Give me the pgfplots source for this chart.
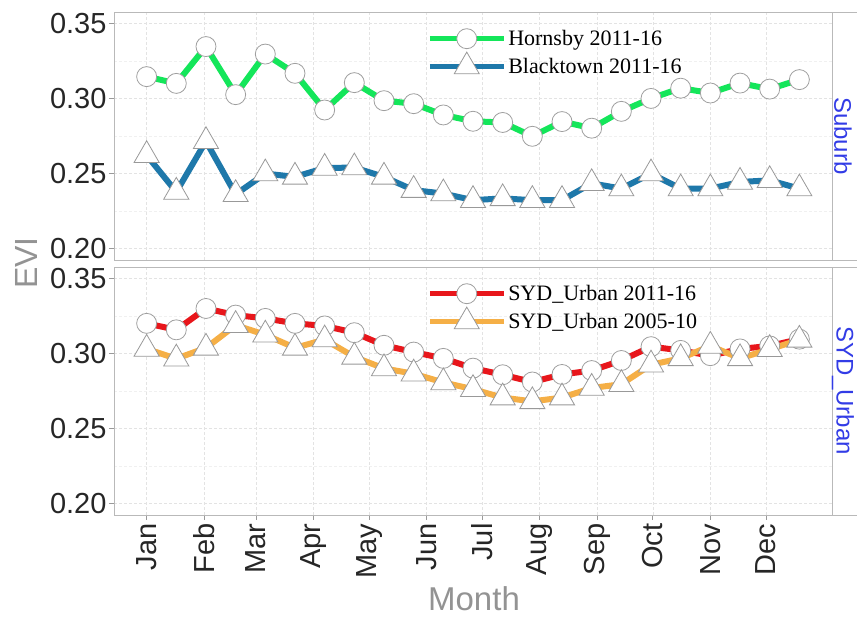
\documentclass[border=0pt]{standalone}
\usepackage{fontspec}
\setmainfont{Liberation Sans}
\newfontfamily\legfont{Liberation Serif}
\usepackage{pgfplots}
\pgfplotsset{compat=1.18}
\usepackage{pgfplotstable}

\definecolor{cgreen}{RGB}{20,230,90}
\definecolor{cblue}{RGB}{30,120,170}
\definecolor{cred}{RGB}{232,22,27}
\definecolor{corange}{RGB}{245,175,70}
\definecolor{cstrip}{RGB}{50,60,230}

% day of year, EVI (16-day composites)
\pgfplotstableread{
day hornsby blacktown urban1116 urban0510
1   0.3145 0.2622 0.3200 0.3030
17  0.3100 0.2378 0.3157 0.2965
33  0.3345 0.2715 0.3299 0.3037
49  0.3025 0.2362 0.3255 0.3188
65  0.3295 0.2500 0.3233 0.3124
81  0.3167 0.2478 0.3200 0.3037
97  0.2923 0.2537 0.3183 0.3092
113 0.3105 0.2540 0.3138 0.2977
129 0.2985 0.2478 0.3054 0.2900
145 0.2965 0.2390 0.3009 0.2865
161 0.2890 0.2367 0.2967 0.2807
177 0.2848 0.2323 0.2902 0.2762
193 0.2840 0.2335 0.2858 0.2706
209 0.2748 0.2323 0.2810 0.2681
225 0.2846 0.2323 0.2860 0.2706
241 0.2802 0.2435 0.2886 0.2770
257 0.2914 0.2400 0.2953 0.2795
273 0.3000 0.2500 0.3045 0.2925
289 0.3068 0.2400 0.3020 0.2967
305 0.3036 0.2400 0.2985 0.3050
321 0.3102 0.2444 0.3030 0.2967
337 0.3062 0.2455 0.3050 0.3028
353 0.3125 0.2400 0.3095 0.3090
}\evi

\pgfplotsset{
  panel/.style={
    scale only axis, width=718pt, height=248pt,
    xmin=-16.6, xmax=370.6, ymin=0.1925, ymax=0.3575,
    ytick={0.20,0.25,0.30,0.35},
    yticklabels={0.20,0.25,0.30,0.35},
    minor ytick={0.225,0.275,0.325},
    xtick={1,32,60,91,121,152,182,213,244,274,305,335},
    grid=major, yminorgrids,
    major grid style={gray!22, densely dashed, line width=0.7pt},
    minor grid style={gray!12, densely dashed, line width=0.6pt},
    minor tick length=0pt,
    axis line style={gray!55, line width=0.8pt},
    tick pos=left, tick align=outside, major tick length=5pt,
    tick style={gray!80, line width=0.8pt},
    ticklabel style={font=\fontsize{29}{29}\selectfont, text=black!85},
    yticklabel style={xshift=1pt},
    /pgf/number format/assume math mode=true,
    clip=false,
    legend style={draw=none, fill=none, font=\legfont\fontsize{22}{24}\selectfont,
      anchor=north west, row sep=3pt, inner sep=0pt},
    legend cell align=left,
    legend image code/.code={\draw[#1, mark repeat=2, mark phase=2]
      plot coordinates {(0pt,0pt) (37pt,0pt) (74pt,0pt)};},
  },
  ln/.style={line width=6pt, mark=none},
  circ/.style={only marks, mark=*, mark size=10pt,
    mark options={fill=white, draw=gray!75, line width=0.8pt}},
  tri/.style={only marks, mark=triangle*, mark size=14.5pt,
    mark options={fill=white, draw=gray!80, line width=0.8pt}},
}

\begin{document}
\begin{tikzpicture}
\useasboundingbox (0,0) rectangle (857pt,621pt);

\begin{axis}[panel, name=top, at={(114pt,361pt)}, anchor=south west,
  xticklabels={}, xtick style={draw=none},
  legend style={at={(0.436,0.935)}}]
\addplot[ln, cgreen, forget plot] table[x=day, y=hornsby] {\evi};
\addplot[ln, cblue, forget plot] table[x=day, y=blacktown] {\evi};
\addplot[circ, forget plot] table[x=day, y=hornsby] {\evi};
\addplot[tri, forget plot] table[x=day, y=blacktown] {\evi};
\addlegendimage{line width=5pt, cgreen, mark=*, mark size=10pt,
  mark options={fill=white, draw=gray!75, line width=0.8pt}}
\addlegendentry{Hornsby 2011-16}
\addlegendimage{line width=5pt, cblue, mark=triangle*, mark size=14.5pt,
  mark options={fill=white, draw=gray!80, line width=0.8pt}}
\addlegendentry{Blacktown 2011-16}
\end{axis}

\begin{axis}[panel, name=bot, at={(114pt,106pt)}, anchor=south west,
  xticklabels={Jan,Feb,Mar,Apr,May,Jun,Jul,Aug,Sep,Oct,Nov,Dec},
  x tick label style={rotate=90, anchor=east},
  legend style={at={(0.436,0.935)}}]
\addplot[ln, cred, forget plot] table[x=day, y=urban1116] {\evi};
\addplot[ln, corange, forget plot] table[x=day, y=urban0510] {\evi};
\addplot[circ, forget plot] table[x=day, y=urban1116] {\evi};
\addplot[tri, forget plot] table[x=day, y=urban0510] {\evi};
\addlegendimage{line width=5pt, cred, mark=*, mark size=10pt,
  mark options={fill=white, draw=gray!75, line width=0.8pt}}
\addlegendentry{SYD\_Urban 2011-16}
\addlegendimage{line width=5pt, corange, mark=triangle*, mark size=14.5pt,
  mark options={fill=white, draw=gray!80, line width=0.8pt}}
\addlegendentry{SYD\_Urban 2005-10}
\end{axis}

% facet strips on the right
\draw[gray!55, line width=0.8pt] (top.north east) rectangle ([xshift=40pt]top.south east);
\draw[gray!55, line width=0.8pt] (bot.north east) rectangle ([xshift=40pt]bot.south east);
\node[rotate=-90, inner sep=0pt, text=cstrip, font=\fontsize{24}{24}\selectfont] at ([xshift=11pt]top.east) {Suburb};
\node[rotate=-90, inner sep=0pt, text=cstrip, font=\fontsize{24}{24}\selectfont] at ([xshift=11pt]bot.east) {SYD\_Urban};

% shared axis titles
\node[rotate=90, text=gray!85, font=\fontsize{32}{32}\selectfont] at (26pt,358pt) {EVI};
\node[text=gray!85, font=\fontsize{33}{33}\selectfont] at (474pt,22pt) {Month};
\end{tikzpicture}
\end{document}
